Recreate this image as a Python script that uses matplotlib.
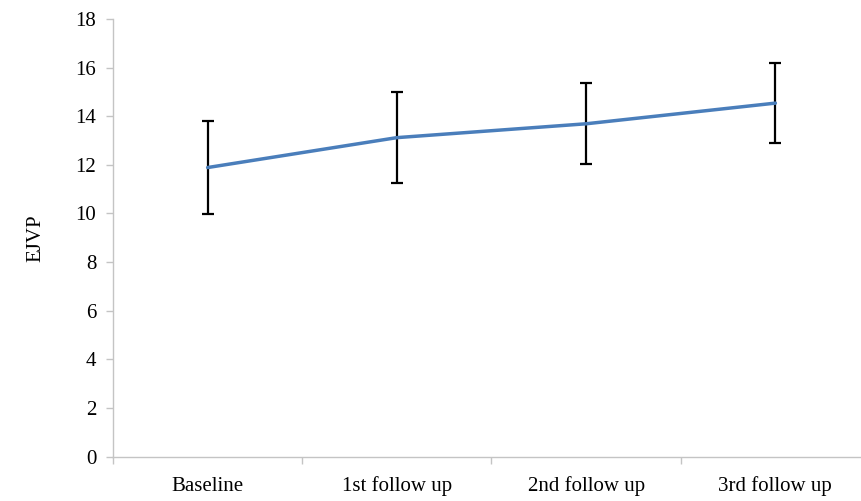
import numpy as np
import matplotlib
matplotlib.use("Agg")
import matplotlib.pyplot as plt

# values
categories = ["Baseline", "1st follow up", "2nd follow up", "3rd follow up"]
ejvp_mean = [11.89, 13.12, 13.69, 14.54]
ejvp_err = [1.90, 1.87, 1.67, 1.65]
y_ticks = [0, 2, 4, 6, 8, 10, 12, 14, 16, 18]

plt.rcParams['font.family'] = ['Liberation Serif', 'DejaVu Serif']
fs = 15

W, H = 862, 501
fig = plt.figure(figsize=(W / 100, H / 100), dpi=100)
# plot area runs past the right edge, like the cropped original
ax = fig.add_axes([113 / W, (H - 456.6) / H, (870 - 113) / W, (456.6 - 19) / H])

x = np.arange(len(categories))
ax.errorbar(x, ejvp_mean, yerr=ejvp_err, fmt='none', ecolor='black',
            elinewidth=1.6, capsize=4.3, capthick=1.6, zorder=2)
ax.plot(x, ejvp_mean, color='#4a7ebb', lw=2.5, solid_capstyle='round', zorder=3)

ax.set_xlim(-0.5, len(categories) - 0.5)
ax.set_ylim(0, 18)
ax.set_yticks(y_ticks)

# tick marks between categories, labels at category centres
ax.set_xticks(np.arange(len(categories) + 1) - 0.5)
ax.set_xticklabels([])
ax.set_xticks(x, minor=True)
ax.set_xticklabels(categories, minor=True, va='baseline')
ax.tick_params(axis='x', which='minor', length=0, pad=25, labelsize=fs)
ax.tick_params(axis='x', which='major', length=5, width=1, color='#c4c4c4')
ax.tick_params(axis='y', length=5, width=1, color='#c4c4c4', pad=7, labelsize=fs)

for s in ['top', 'right']:
    ax.spines[s].set_visible(False)
for s in ['left', 'bottom']:
    ax.spines[s].set_color('#c4c4c4')
    ax.spines[s].set_linewidth(1)

ax.set_ylabel('EJVP', fontsize=fs, labelpad=22)

fig.savefig('out.png', dpi=100)
